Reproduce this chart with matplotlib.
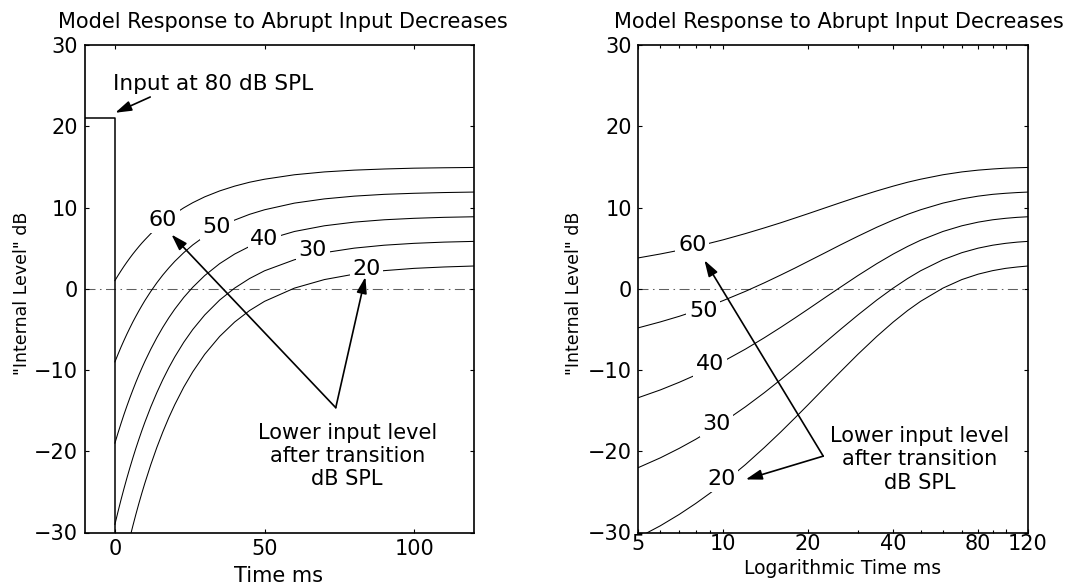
import matplotlib
matplotlib.use('Agg')
import matplotlib.pyplot as plt
import numpy as np

# ---------------- data ----------------
time_ms = [0, 1, 2, 3, 4, 5, 6, 7, 8, 9, 10, 12, 14, 16, 18, 20, 23, 26, 30, 35,
           40, 45, 50, 60, 70, 80, 90, 100, 110, 120]
level_60 = [1.00, 1.61, 2.19, 2.75, 3.28, 3.79, 4.28, 4.74, 5.19, 5.62, 6.02, 6.79, 7.49, 8.12, 8.71,
            9.24, 9.96, 10.59, 11.31, 12.04, 12.63, 13.11, 13.48, 14.03, 14.38, 14.60, 14.74, 14.84, 14.89, 14.93]
level_50 = [-9.00, -8.09, -7.21, -6.38, -5.58, -4.82, -4.08, -3.39, -2.72, -2.08, -1.46, -0.32, 0.73, 1.69, 2.56,
            3.37, 4.44, 5.39, 6.46, 7.57, 8.45, 9.16, 9.72, 10.54, 11.06, 11.40, 11.62, 11.75, 11.84, 11.90]
level_40 = [-19.00, -17.78, -16.62, -15.50, -14.44, -13.42, -12.45, -11.51, -10.62, -9.77, -8.95, -7.43, -6.03,
            -4.75, -3.58, -2.51, -1.07, 0.18, 1.62, 3.09, 4.27, 5.21, 5.97, 7.05, 7.75, 8.20, 8.49, 8.67, 8.79, 8.86]
level_30 = [-29.00, -27.48, -26.02, -24.63, -23.30, -22.03, -20.81, -19.64, -18.53, -17.46, -16.44, -14.53, -12.79,
            -11.19, -9.73, -8.39, -6.59, -5.02, -3.23, -1.39, 0.08, 1.26, 2.21, 3.57, 4.44, 5.00, 5.36, 5.59, 5.74, 5.83]
level_20 = [-39.00, -37.17, -35.43, -33.76, -32.16, -30.63, -29.17, -27.77, -26.43, -25.15, -23.93, -21.64, -19.54,
            -17.63, -15.87, -14.27, -12.11, -10.23, -8.07, -5.87, -4.10, -2.68, -1.55, 0.08, 1.13, 1.80, 2.23, 2.51, 2.68, 2.80]

curve_names = ['60', '50', '40', '30', '20']
input_time = [-10, 0, 0]
input_level = [21, 21, -30]

y_ticks = [-30, -20, -10, 0, 10, 20, 30]
left_x_ticks = [0, 50, 100]
right_x_ticks = [5, 10, 20, 40, 80, 100, 120]
right_x_labels = ['5', '10', '20', '40', '80', '', '120']
right_x_minor = [6, 7, 8, 9, 30, 50, 60, 70, 90]

# label positions (time, level) for the curve labels
left_label_pos = [(16.1, 8.44), (34.0, 7.61), (50.0, 6.18), (66.1, 4.74), (84.1, 2.49)]
right_label_pos = [(7.78, 5.36), (8.51, -2.73), (9.01, -9.30), (9.47, -16.7), (9.88, -23.47)]

title = 'Model Response to Abrupt Input Decreases'
ylabel = '"Internal Level" dB'
note = 'Lower input level\nafter transition\ndB SPL'

# ---------------- figure ----------------
plt.rcParams['font.family'] = ['DejaVu Sans']
fig = plt.figure(figsize=(10.72, 5.86), dpi=100)
W, H = 1072, 586
ax1 = fig.add_axes([85 / W, 53.5 / H, 389 / W, 487.5 / H])
ax2 = fig.add_axes([638 / W, 53.5 / H, 390 / W, 487.5 / H])

curves = [level_60, level_50, level_40, level_30, level_20]
t = np.array(time_ms, dtype=float)

dash = (0, (9.6, 4.3, 1.5, 4.3))
arrow_kw = dict(arrowstyle='-|>,head_length=0.7,head_width=0.22', color='black',
                lw=1.2, mutation_scale=14, shrinkA=0, shrinkB=0)
bbox_kw = dict(boxstyle='square,pad=0.12', facecolor='white', edgecolor='none')

for ax in (ax1, ax2):
    ax.set_ylim(-30, 30)
    ax.set_yticks(y_ticks)
    ax.axhline(0, color='#606060', lw=0.75, ls=dash, zorder=1)
    for sp in ax.spines.values():
        sp.set_linewidth(1.2)
    ax.tick_params(which='both', direction='in', top=True, right=True, width=0.8,
                   labelsize=15)
    ax.tick_params(which='major', length=3.2)
    ax.tick_params(which='minor', length=2.0)
    ax.text(0.509 if ax is ax1 else 0.515, 1.035, title, transform=ax.transAxes,
            ha='center', va='baseline', fontsize=15)
    ax.text(-0.163, 0.491, ylabel, transform=ax.transAxes, rotation=90,
            ha='center', va='center', fontsize=12.5)

# ---- left panel ----
ax1.set_xlim(-10, 120)
ax1.set_xticks(left_x_ticks)
ax1.tick_params(axis='x', pad=4.7)
ax1.tick_params(axis='y', pad=5)
ax1.plot(input_time, input_level, color='black', lw=1.1, zorder=2)
for lev in curves:
    ax1.plot(t, lev, color='black', lw=0.75, zorder=2)
for name, (xx, yy) in zip(curve_names, left_label_pos):
    ax1.text(xx, yy, name, ha='center', va='center', fontsize=16, bbox=bbox_kw, zorder=4)
ax1.text(-0.8, 24.45, 'Input at 80 dB SPL', ha='left', va='baseline', fontsize=15.6, zorder=4)
ax1.annotate('', xy=(0.1, 21.66), xytext=(11.8, 23.6), arrowprops=arrow_kw, zorder=5)
ax1.text(77.6, -20.6, note, ha='center', va='center', multialignment='center',
         fontsize=15, zorder=4)
ax1.annotate('', xy=(18.9, 6.67), xytext=(73.8, -14.64), arrowprops=arrow_kw, zorder=5)
ax1.annotate('', xy=(83.7, 1.45), xytext=(73.8, -14.64), arrowprops=arrow_kw, zorder=5)
ax1.text(0.498, -0.1015, 'Time ms', transform=ax1.transAxes, ha='center',
         va='baseline', fontsize=15)

# ---- right panel ----
ax2.set_xscale('log')
ax2.set_xlim(5, 120)
ax2.set_xticks(right_x_ticks, labels=right_x_labels)
ax2.set_xticks(right_x_minor, minor=True, labels=[''] * len(right_x_minor))
ax2.tick_params(axis='x', pad=1.1)
ax2.tick_params(axis='y', pad=4.5)
pos = t > 0
for lev in curves:
    ax2.plot(t[pos], np.array(lev)[pos], color='black', lw=0.75, zorder=2)
for name, (xx, yy) in zip(curve_names, right_label_pos):
    ax2.text(xx, yy, name, ha='center', va='center', fontsize=16, bbox=bbox_kw, zorder=4)
ax2.text(49.7, -21.0, note, ha='center', va='center', multialignment='center',
         fontsize=15, zorder=4)
ax2.annotate('', xy=(8.59, 3.51), xytext=(22.62, -20.6), arrowprops=arrow_kw, zorder=5)
ax2.annotate('', xy=(12.03, -23.47), xytext=(22.62, -20.6), arrowprops=arrow_kw, zorder=5)
ax2.text(0.525, -0.0845, 'Logarithmic Time ms', transform=ax2.transAxes, ha='center',
         va='baseline', fontsize=13.5)

fig.savefig('out.png', dpi=100, facecolor='white')
